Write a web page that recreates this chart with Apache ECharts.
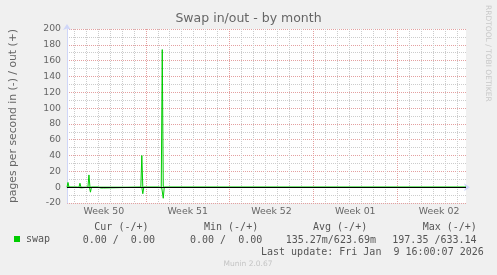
<!DOCTYPE html>
<html><head><meta charset="utf-8">
<script src="https://cdn.jsdelivr.net/npm/echarts@6/dist/echarts.min.js"></script>
<style>html,body{margin:0;padding:0;background:#f0f0f0;}#c{width:497px;height:275px;}</style>
</head><body><div id="c"></div>
<script>
// ---- texts ----
const chartTitle = 'Swap in/out - by month';
const yAxisName = 'pages per second in (-) / out (+)';
const seriesName = 'swap';
const legendHeaders = ['Cur (-/+)', 'Min (-/+)', 'Avg (-/+)', 'Max (-/+)'];
const legendValues = ['0.00 /  0.00', '0.00 /  0.00', '135.27m/623.69m', '197.35 /633.14'];
const lastUpdate = 'Last update: Fri Jan  9 16:00:07 2026';
const versionText = 'Munin 2.0.67';
const watermark = 'RRDTOOL / TOBI OETIKER';

// ---- axes (x in hours since Mon 2025-12-08 00:00, start of Week 50) ----
const xRange = [10, 810];
const yMin = -20, yMax = 200, yStep = 20;
const weekLabels = ['Week 50', 'Week 51', 'Week 52', 'Week 01', 'Week 02'];
const weekLabelHours = [84, 252, 420, 588, 756];

// ---- data: swap out (+) ----
const outHours  = [10, 12, 14, 34, 36, 38, 52, 54, 56, 96, 98, 100, 158, 160, 162, 199, 201, 203, 810];
const outValues = [0, 6, 0, 0, 5, 0, 0, 15.5, 0, 0, 1.7, 0, 0, 40, 0, 0, 174, 0, 0];
// ---- data: swap in (-) ----
const inHours  = [10, 14, 16, 28, 30, 39, 41, 55, 57, 59, 72, 75, 78, 83, 85, 160, 162, 164, 194, 196, 200, 203, 205, 810];
const inValues = [0, -2.5, 0, 0, -0.8, -0.8, 0, 0, -6.3, 0, 0, -2.5, -1, -1, 0, 0, -8.3, 0, 0, -1, -1, -14, 0, 0];

const GREEN = '#00cc00';
const FONT = 'DejaVu Sans';
const MONO = 'DejaVu Sans Mono';
const TXT = '#666666';
const AXIS = '#CFD6F8';
const MAJOR = '#e4a0a0';
const MINOR = '#cccccc';

const pairs = (xs, ys) => xs.map((x, i) => [x, ys[i]]);

// daily grid positions (every 24 h); every 7th one (Monday 00:00) is a week boundary
const dayHours = [];
for (let h = 24; h < xRange[1]; h += 24) dayHours.push(h);
const dayLineColors = [MINOR, MINOR, MINOR, MINOR, MINOR, MINOR, MAJOR];

const chart = echarts.init(document.getElementById('c'), null, { renderer: 'canvas' });
chart.setOption({
  animation: false,
  backgroundColor: '#f0f0f0',
  textStyle: { fontFamily: FONT },
  title: {
    text: chartTitle, left: 'center', top: 12, padding: 0,
    textStyle: { fontFamily: FONT, fontSize: 12.5, fontWeight: 'normal', color: TXT }
  },
  legend: {
    data: [seriesName], left: 14, top: 234, padding: 0, icon: 'rect',
    itemWidth: 6, itemHeight: 6, selectedMode: false,
    textStyle: { fontFamily: MONO, fontSize: 10, color: '#555', padding: [0, 0, 0, 1] }
  },
  grid: { left: 66, right: 31, top: 29, bottom: 72, show: true, backgroundColor: '#ffffff', borderWidth: 0 },
  xAxis: {
    type: 'value', min: xRange[0], max: xRange[1],
    axisLine: { show: true, lineStyle: { color: AXIS, width: 1 }, symbol: ['none', 'arrow'], symbolSize: [6, 6], symbolOffset: [0, 4] },
    axisTick: { show: false, customValues: dayHours },
    splitLine: { show: true, lineStyle: { color: dayLineColors, width: 1, type: [1, 1] } },
    axisLabel: {
      customValues: weekLabelHours, margin: 4,
      formatter: v => weekLabels[weekLabelHours.indexOf(v)] || '',
      fontFamily: FONT, fontSize: 9.4, color: TXT
    }
  },
  yAxis: {
    type: 'value', min: yMin, max: yMax, interval: yStep,
    name: yAxisName, nameLocation: 'middle', nameRotate: 90, nameGap: 48,
    nameTextStyle: { fontFamily: FONT, fontSize: 10.8, color: TXT },
    axisLine: { show: true, lineStyle: { color: AXIS, width: 1 }, symbol: ['none', 'arrow'], symbolSize: [6, 6], symbolOffset: [0, 5] },
    axisTick: { show: false },
    axisLabel: { margin: 6, fontFamily: FONT, fontSize: 9.3, color: TXT },
    splitLine: { show: true, lineStyle: { color: MAJOR, width: 1, type: [1, 1] } },
    minorTick: { show: false, splitNumber: 2 },
    minorSplitLine: { show: true, lineStyle: { color: MINOR, width: 1, type: [1, 1] } }
  },
  series: [
    {
      type: 'line', name: seriesName, data: pairs(outHours, outValues), z: 3,
      showSymbol: false, symbol: 'none', lineStyle: { color: GREEN, width: 1 }, itemStyle: { color: GREEN }
    },
    {
      type: 'line', name: seriesName, data: pairs(inHours, inValues), z: 3,
      showSymbol: false, symbol: 'none', lineStyle: { color: GREEN, width: 1 }, itemStyle: { color: GREEN },
      markLine: { silent: true, symbol: 'none', label: { show: false }, animation: false, z: 5,
        lineStyle: { color: '#000000', width: 1, type: 'solid' }, data: [{ yAxis: 0 }] }
    }
  ],
  graphic: [
    { type: 'text', x: 94.3, y: 227, style: { text: legendHeaders[0], font: '10px ' + MONO, fill: '#555', verticalAlign: 'middle' } },
    { type: 'text', x: 204, y: 227, style: { text: legendHeaders[1], font: '10px ' + MONO, fill: '#555', verticalAlign: 'middle' } },
    { type: 'text', x: 313, y: 227, style: { text: legendHeaders[2], font: '10px ' + MONO, fill: '#555', verticalAlign: 'middle' } },
    { type: 'text', x: 422.7, y: 227, style: { text: legendHeaders[3], font: '10px ' + MONO, fill: '#555', verticalAlign: 'middle' } },
    { type: 'text', x: 82.7, y: 240, style: { text: legendValues[0], font: '10px ' + MONO, fill: '#555', verticalAlign: 'middle' } },
    { type: 'text', x: 190, y: 240, style: { text: legendValues[1], font: '10px ' + MONO, fill: '#555', verticalAlign: 'middle' } },
    { type: 'text', x: 285.7, y: 240, style: { text: legendValues[2], font: '10px ' + MONO, fill: '#555', verticalAlign: 'middle' } },
    { type: 'text', x: 392.3, y: 240, style: { text: legendValues[3], font: '10px ' + MONO, fill: '#555', verticalAlign: 'middle' } },
    { type: 'text', x: 261, y: 252, style: { text: lastUpdate, font: '10px ' + MONO, fill: '#555', verticalAlign: 'middle' } },
    { type: 'text', x: 248, y: 264, style: { text: versionText, font: '7.5px ' + FONT, fill: '#c4c4c4', align: 'center', verticalAlign: 'middle' } },
    { type: 'text', x: 488, y: 5, rotation: -Math.PI / 2, style: { text: watermark, font: '7.5px ' + FONT, fill: '#c8c8c8', align: 'left', verticalAlign: 'middle' } }
  ]
});
</script>
</body></html>
